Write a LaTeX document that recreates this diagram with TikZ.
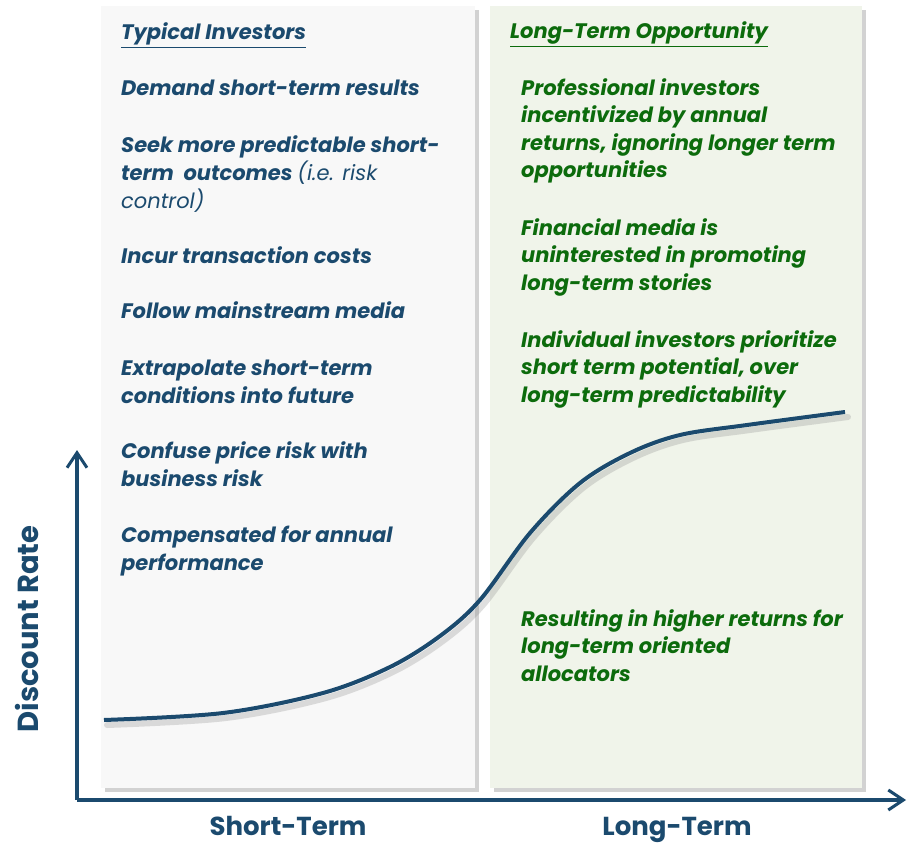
\documentclass[tikz,border=0pt]{standalone}
\usepackage{fontspec}
\setmainfont{Poppins}
\usetikzlibrary{shadows,arrows.meta}
\definecolor{ink}{HTML}{1B4A6E}
\definecolor{grn}{HTML}{0C6B0C}
\definecolor{lpanel}{HTML}{F8F8F8}
\definecolor{rpanel}{HTML}{F0F4EA}
\tikzset{
  panel/.style={draw=none, drop shadow={shadow xshift=4pt, shadow yshift=-4pt, opacity=0.35}},
  bluetxt/.style={anchor=base west, align=left, inner sep=0pt, text=ink, font=\fontsize{21}{28}\selectfont\bfseries\itshape},
  grntxt/.style={anchor=base west, align=left, inner sep=0pt, text=grn, font=\fontsize{21}{27.5}\selectfont\bfseries\itshape},
  axislbl/.style={inner sep=0pt, text=ink, font=\fontsize{26}{30}\selectfont\bfseries},
  axisline/.style={draw=ink, line width=3.5pt, -{Straight Barb[length=15pt,width=20pt,line width=3pt]}},
}
\begin{document}
\begin{tikzpicture}[x=1pt,y=-1pt]
\useasboundingbox (0,0) rectangle (907,845);
\fill[white] (0,0) rectangle (907,845);
% panels
\path[panel, fill=lpanel] (101,6) rectangle (475,788);
\path[panel, fill=rpanel] (490,6) rectangle (862,788);
% axes
\coordinate (o) at (77,800);
\coordinate (ytop) at (77,450);
\coordinate (xend) at (906,800);
\draw[axisline] (o) -- (ytop);
\draw[axisline] (o) -- (xend);
% curve shadow and curve
\draw[line width=6pt, gray, opacity=0.25, line cap=round, xshift=3pt, yshift=-5pt]
  plot[smooth, tension=0.55] coordinates {(104,720) (223,713) (323,693) (390,667) (440,636) (480,600) (530,533) (580,483) (630,453) (680,435) (747,425) (845,412)};
\draw[line width=4pt, ink]
  plot[smooth, tension=0.55] coordinates {(104,720) (223,713) (323,693) (390,667) (440,636) (480,600) (530,533) (580,483) (630,453) (680,435) (747,425) (845,412)};
% left texts
\node[bluetxt] (lh) at (121,40) {\underline{Typical Investors}};
\node[bluetxt] (l1) at (121,96) {Demand short-term results};
\node[bluetxt] (l2) at (121,208) {Seek more predictable short-\\term\ \ outcomes {\mdseries (i.e. risk}\\{\mdseries control)}};
\node[bluetxt] (l3) at (121,263) {Incur transaction costs};
\node[bluetxt] (l4) at (121,318) {Follow mainstream media};
\node[bluetxt] (l5) at (121,403) {Extrapolate short-term\\conditions into future};
\node[bluetxt] (l6) at (121,486) {Confuse price risk with\\business risk};
\node[bluetxt] (l7) at (121,570) {Compensated for annual\\performance};
% right texts
\node[grntxt] (rh) at (510,39) {\underline{Long-Term Opportunity}};
\node[grntxt] (r1) at (521,178) {Professional investors\\incentivized by annual\\returns, ignoring longer term\\opportunities};
\node[grntxt] (r2) at (521,290) {Financial media is\\uninterested in promoting\\long-term stories};
\node[grntxt] (r3) at (521,402) {Individual investors prioritize\\short term potential, over\\long-term predictability};
\node[grntxt] (r4) at (521,681) {Resulting in higher returns for\\long-term oriented\\allocators};
% axis labels
\node[axislbl, anchor=base] (xs) at (288,835) {Short-Term};
\node[axislbl, anchor=base] (xl) at (677,835) {Long-Term};
\node[axislbl, font=\fontsize{29}{32}\selectfont\bfseries, rotate=90, anchor=base] (yl) at (38,629) {Discount Rate};
\end{tikzpicture}
\end{document}
